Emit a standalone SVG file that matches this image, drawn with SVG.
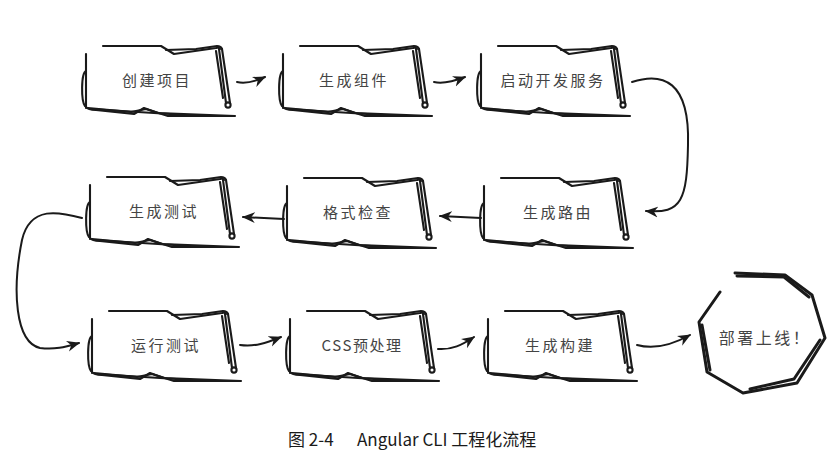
<svg xmlns="http://www.w3.org/2000/svg" xmlns:xlink="http://www.w3.org/1999/xlink" width="840" height="469" viewBox="0 0 840 469">
<style>
.sk{fill:none;stroke:#1a1a1a;stroke-width:2.1;stroke-linejoin:round;stroke-linecap:round}
.lbl{font-family:"Noto Sans CJK SC","Noto Sans",sans-serif;font-size:15px;fill:#444;text-anchor:middle;letter-spacing:2.5px}
.con{fill:none;stroke:#1a1a1a;stroke-width:2;stroke-linecap:round}
.oct{fill:none;stroke:#1a1a1a;stroke-width:3;stroke-linejoin:round;stroke-linecap:round}
.cap{font-family:"Noto Sans CJK SC","Noto Sans",sans-serif;font-size:17px;fill:#1a1a1a;font-weight:normal}
</style>
<defs>
<marker id="ah" markerUnits="userSpaceOnUse" markerWidth="14" markerHeight="12" refX="12" refY="6" orient="auto">
<path d="M0,0.5 L13,6 L0,11.5 L4,6 Z" fill="#1a1a1a"/>
</marker>
<g id="box">
<path class="sk" d="M17,0 L75,0 L88,8 L130,2 Q133,1 134,3"/>
<path class="sk" d="M80,4 L110,3 L131,0 Q135,0 136,3"/>
<path class="sk" d="M133,3 L140,57"/>
<path class="sk" d="M136,3 L144,57"/>
<path class="sk" d="M130,5 L137,52"/>
<circle class="sk" cx="142" cy="59" r="2.6"/>
<path class="sk" d="M0,8 L0,62"/>
<path class="sk" d="M0,25 C-5,27 -5,55 -1,60"/>
<path class="sk" d="M0,61 Q2,64 10,64 L48,68 L58,62 L72,67 L149,70"/>
<path class="sk" d="M2,62 L45,66 L60,63 L82,70 L148,70"/>
<path class="sk" d="M4,63 L100,69"/>
</g>
</defs>
<g id="connectors">
<path class="con" marker-end="url(#ah)" d="M237,82 C246,84 254,82 265,77"/>
<path class="con" marker-end="url(#ah)" d="M434,82 C443,84 452,82 465,77"/>
<path class="con" marker-end="url(#ah)" d="M632,82 C662,72 690,80 688,145 C687,200 682,214 646,211"/>
<path class="con" marker-end="url(#ah)" d="M481,218 L440,216"/>
<path class="con" marker-end="url(#ah)" d="M284,219 L243,217"/>
<path class="con" marker-end="url(#ah)" d="M82,218 C60,212 30,205 22,240 C12,290 15,342 40,348 C55,350 65,347 79,343"/>
<path class="con" marker-end="url(#ah)" d="M240,345 C255,347 266,343 281,337"/>
<path class="con" marker-end="url(#ah)" d="M438,349 C452,350 462,345 474,337"/>
<path class="con" marker-end="url(#ah)" d="M637,345 C655,350 672,345 690,335"/>
</g>
<g id="n1"><use xlink:href="#box" href="#box" x="86" y="46"/><text class="lbl" x="157" y="86">创建项目</text></g>
<g id="n2"><use xlink:href="#box" href="#box" x="283" y="46"/><text class="lbl" x="354" y="86">生成组件</text></g>
<g id="n3"><use xlink:href="#box" href="#box" x="481" y="46"/><text class="lbl" x="553" y="86">启动开发服务</text></g>
<g id="n4"><use xlink:href="#box" href="#box" x="484" y="178"/><text class="lbl" x="558" y="218">生成路由</text></g>
<g id="n5"><use xlink:href="#box" href="#box" x="287" y="178"/><text class="lbl" x="358" y="218">格式检查</text></g>
<g id="n6"><use xlink:href="#box" href="#box" x="90" y="177"/><text class="lbl" x="164" y="217">生成测试</text></g>
<g id="n7"><use xlink:href="#box" href="#box" x="92" y="311"/><text class="lbl" x="166" y="351">运行测试</text></g>
<g id="n8"><use xlink:href="#box" href="#box" x="290" y="311"/><text class="lbl" x="362" y="351" style="letter-spacing:1.5px">CSS预处理</text></g>
<g id="n9"><use xlink:href="#box" href="#box" x="488" y="311"/><text class="lbl" x="560" y="351">生成构建</text></g>
<g id="n10">
<path class="oct" d="M720,292 L699,322 L707,372 L743,393 L797,383 L825,338 L812,295 L785,275 L735,273"/>
<path class="oct" stroke-width="2" d="M737,276 L784,277 L809,297"/>
<path class="oct" stroke-width="2" d="M750,389 L794,379 L820,340"/>
<path class="oct" stroke-width="2" d="M702,325 L710,370"/>
<text class="lbl" x="765" y="344" style="font-size:16px">部署上线！</text>
</g>
<g id="caption">
<text class="cap" x="288" y="446">图 2-4</text>
<text class="cap" x="357" y="446">Angular CLI 工程化流程</text>
</g>
</svg>
